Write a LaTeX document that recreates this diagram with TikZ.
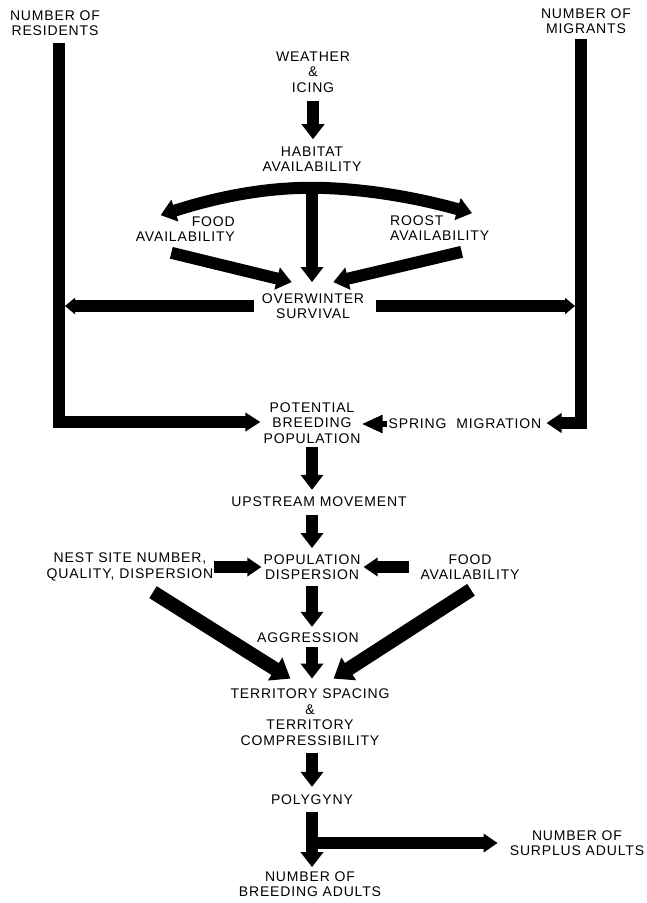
\documentclass[tikz,border=0pt]{standalone}
\usepackage{fontspec}
\setmainfont{Liberation Sans}[LetterSpace=6]
\usetikzlibrary{arrows.meta,calc}

\begin{document}
\begin{tikzpicture}[x=1pt,y=-1pt,
	lbl/.style={inner sep=0pt,align=center,font=\fontsize{14}{15.5}\selectfont},
	bar/.style={line width=12pt,line join=miter},
	flow/.style={line width=12pt,-{Triangle[length=15pt,width=22pt]}},
	side/.style={line width=12pt,-{Triangle[length=10pt,width=16pt]}},
	flat/.style={line width=12pt,-{Triangle[length=14pt,width=18pt]}},
	diag/.style={line width=14pt,-{Triangle[length=18pt,width=26pt]}}]
	\useasboundingbox (0,0) rectangle (647,903);
	
	\node[lbl] (res) at (55,23) {NUMBER OF\\RESIDENTS};
	\node[lbl] (mig) at (586,21) {NUMBER OF\\MIGRANTS};
	\node[lbl] (wea) at (313,72) {WEATHER\\\&\\ICING};
	\node[lbl] (hab) at (312,159) {HABITAT\\AVAILABILITY};
	\node[lbl,align=right,anchor=east] (fooda) at (235,229) {FOOD\\AVAILABILITY};
	\node[lbl,align=left,anchor=west] (roost) at (390,228) {ROOST\\AVAILABILITY};
	\node[lbl] (over) at (313,306) {OVERWINTER\\SURVIVAL};
	\node[lbl] (pot) at (312,423) {POTENTIAL\\BREEDING\\POPULATION};
	\node[lbl] (spring) at (465,424) {SPRING\hspace{5pt} MIGRATION};
	\node[lbl] (up) at (319,502) {UPSTREAM MOVEMENT};
	\node[lbl] (popd) at (312,567) {POPULATION\\DISPERSION};
	\node[lbl] (nest) at (130,567) {NEST SITE NUMBER,\\QUALITY, DISPERSION};
	\node[lbl] (foodb) at (470,567) {FOOD\\AVAILABILITY};
	\node[lbl] (agg) at (308,638) {AGGRESSION};
	\node[lbl] (terr) at (310,717) {TERRITORY SPACING\\\&\\TERRITORY\\COMPRESSIBILITY};
	\node[lbl] (poly) at (312,800) {POLYGYNY};
	\node[lbl] (surp) at (577,843) {NUMBER OF\\SURPLUS ADULTS};
	\node[lbl] (breed) at (310,884) {NUMBER OF\\BREEDING ADULTS};
	
	% the two side loops
	\coordinate (rc) at (59,422);
	\coordinate (mc) at (581,423);
	\draw[bar,-{Triangle[length=15pt,width=18pt]},shorten <=7pt,shorten >=3pt] (rc |- res.south) -- (rc) -- (rc -| pot.west);
	\draw[bar,-{Triangle[length=15pt,width=19pt]},shorten <=5pt,shorten >=5pt] (mc |- mig.south) -- (mc) -- (mc -| spring.east);
	
	% winter
	\draw[flow,shorten <=8pt,shorten >=7pt] (wea.south) -- (wea.south |- hab.north);
	\coordinate (fan) at ($(hab.south)+(0,16)$);
	\draw[flow] (fan) .. controls +(-30,0) and +(75,-24) .. ($(fooda.north west)+(25,-1)$);
	\draw[flow] (fan) .. controls +(30,0) and +(-75,-21) .. ($(roost.north west)+(82,-2)$);
	\draw[flow,shorten >=11pt] (fan) -- (fan |- over.north);
	\draw[flow] ($(fooda.south)+(-14,11)$) -- ($(over.north west)+(30,-11)$);
	\draw[flow] ($(roost.south)+(22,11)$) -- ($(over.north east)+(-31,-11)$);
	\draw[side,shorten <=8pt,shorten >=6pt] (over.west) -- (over.west -| rc);
	\draw[side,shorten <=12pt,shorten >=6pt] (over.east) -- (over.east -| mc);
	\draw[line width=6pt,-{Triangle[length=21pt,width=17pt]},shorten <=1pt,shorten >=1pt] (spring.west) -- (spring.west -| pot.east);
	
	% breeding season
	\draw[flow,shorten <=3pt,shorten >=7pt] (pot.south) -- (pot.south |- up.north);
	\draw[flow,shorten <=8pt,shorten >=6pt] (popd.north |- up.south) -- (popd.north);
	\draw[flat,shorten <=1pt,shorten >=2pt] (nest.east) -- (nest.east -| popd.west);
	\draw[flat,shorten <=11pt,shorten >=3pt] (foodb.west) -- (foodb.west -| popd.east);
	\draw[flow,shorten <=6pt,shorten >=6pt] (popd.south) -- (popd.south |- agg.north);
	\draw[flow,shorten <=4pt,shorten >=10pt] (popd.south |- agg.south) -- (popd.south |- terr.north);
	\draw[diag] ($(nest.south)+(23,11)$) -- ($(terr.north west)+(60,-10)$);
	\draw[diag] ($(foodb.south)+(1,10)$) -- ($(terr.north east)+(-56,-10)$);
	\draw[flow,shorten <=8pt,shorten >=8pt] (poly.north |- terr.south) -- (poly.north);
	\draw[flow,shorten <=7pt,shorten >=4pt] (poly.south) -- (poly.south |- breed.north);
	\draw[flat,shorten >=12pt] (poly.south |- surp.west) -- (surp.west);
\end{tikzpicture}
\end{document}
